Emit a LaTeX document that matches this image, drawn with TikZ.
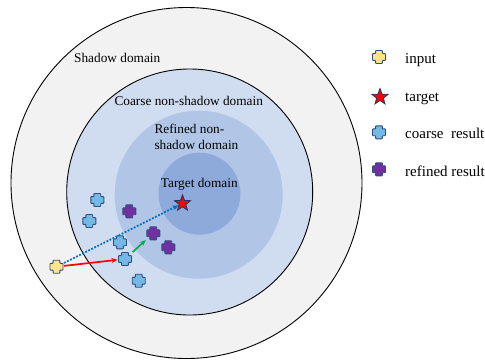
\documentclass[tikz,border=0pt]{standalone}
\usepackage{fontspec}
\setmainfont{Liberation Serif}
\usetikzlibrary{shapes.geometric,arrows.meta}
\definecolor{shadowfill}{HTML}{F2F2F2}
\definecolor{coarsefill}{HTML}{D0DCF0}
\definecolor{refinedfill}{HTML}{B1C5E7}
\definecolor{targetfill}{HTML}{8EAADB}
\definecolor{inyellow}{HTML}{FFE38F}
\definecolor{cblue}{HTML}{74B9E5}
\definecolor{rpurple}{HTML}{7030A0}
\definecolor{markline}{HTML}{2F4D7E}
\definecolor{starline}{HTML}{1F3864}
\definecolor{dotblue}{HTML}{0070C0}
\definecolor{agreen}{HTML}{00B050}
\tikzset{
  plusmark/.style={minimum size=15pt, inner sep=0pt, outer sep=0pt,
    path picture={\filldraw[fill=#1, draw=markline, line width=0.9pt, rounded corners=0.6pt]
      ([shift={(-3.4pt,-6.5pt)}]path picture bounding box.center) -- ++(6.8pt,0pt) -- ++(0pt,3.1pt)
      -- ++(3.1pt,0pt) -- ++(0pt,6.8pt) -- ++(-3.1pt,0pt) -- ++(0pt,3.1pt) -- ++(-6.8pt,0pt)
      -- ++(0pt,-3.1pt) -- ++(-3.1pt,0pt) -- ++(0pt,-6.8pt) -- ++(3.1pt,0pt) -- cycle;}},
  starmark/.style={star, star points=5, star point ratio=2.4, minimum size=17pt, inner sep=0pt,
    fill=red, draw=starline, line width=0.8pt},
  lab/.style={font=\fontsize{13.3}{15}\selectfont, inner sep=0pt, anchor=base west},
  leg/.style={font=\fontsize{15}{17}\selectfont, inner sep=0pt, anchor=base west},
  domline/.style={draw=black, line width=0.9pt},
  arr/.style={line width=1.7pt, -{Stealth[length=6pt,width=5pt]}},
}
\begin{document}
\begin{tikzpicture}[x=1pt,y=-1pt]
\useasboundingbox (0,0) rectangle (485,360);
% domains
\filldraw[domline, fill=shadowfill] (186.5,183) circle (175.5);
\filldraw[domline, fill=coarsefill] (189.7,192) circle (123);
\fill[refinedfill] (198.7,194.7) circle (84);
\fill[targetfill] (199.5,193.7) circle (41);
% labels
\node[lab] (lshadow) at (74,62.5) {Shadow domain};
\node[lab] (lcoarse) at (114.3,105.7) {Coarse non-shadow domain};
\node[lab] (lref1) at (154.3,133.3) {Refined non-};
\node[lab] (lref2) at (154.3,149) {shadow domain};
\node[lab] (ltarget) at (160.7,187.3) {Target domain};
% markers
\node[plusmark=inyellow] (in) at (56.5,266.7) {};
\node[plusmark=cblue] (c1) at (97.3,200) {};
\node[plusmark=cblue] (c2) at (89.3,221) {};
\node[plusmark=cblue] (c3) at (120,242.3) {};
\node[plusmark=cblue] (c4) at (125,259) {};
\node[plusmark=cblue] (c5) at (138.7,280.7) {};
\node[plusmark=rpurple] (p1) at (129.3,211.3) {};
\node[plusmark=rpurple] (p2) at (153.3,233.3) {};
\node[plusmark=rpurple] (p3) at (168.3,247.3) {};
\node[starmark] (star) at (182.5,203.3) {};
% connectors
\draw[arr, red] (in) -- (c4);
\draw[arr, agreen] (c4) -- (p2);
\draw[line width=1.8pt, dotblue, dash pattern=on 1.8pt off 1.6pt, -{Stealth[length=6pt,width=5pt]}] (in) -- (star);
% legend
\node[plusmark=inyellow] (kin) at (379,57) {};
\node[starmark] (kstar) at (380,97) {};
\node[plusmark=cblue] (kc) at (379,132.3) {};
\node[plusmark=rpurple] (kr) at (379,169.3) {};
\node[leg] (tin) at (405,63.3) {input};
\node[leg] (tstar) at (405,101.7) {target};
\node[leg] (tc) at (405,138.3) {coarse\ \ result};
\node[leg] (tr) at (405,176.7) {refined result};
\end{tikzpicture}
\end{document}
